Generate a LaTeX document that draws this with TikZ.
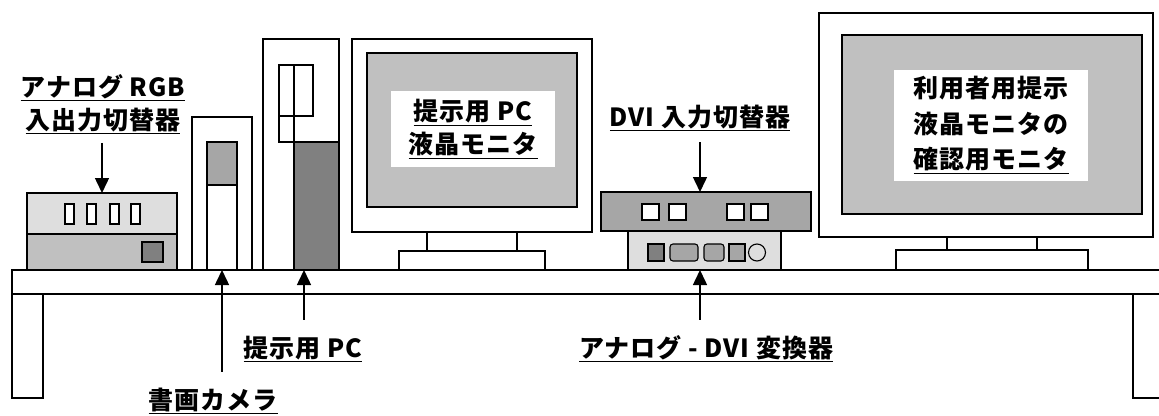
\documentclass[tikz,border=0pt]{standalone}
\usepackage{fontspec}
\newfontfamily\jpfont{Noto Sans CJK JP}[LetterSpace=4]
\usetikzlibrary{arrows.meta}

\definecolor{boxpale}{HTML}{DEDEDE}
\definecolor{boxmid}{HTML}{C0C0C0}
\definecolor{boxgrey}{HTML}{A6A6A6}
\definecolor{boxdark}{HTML}{808080}

\begin{document}
\begin{tikzpicture}[x=1pt,y=-1pt,
  outline/.style={draw=black,line width=1.5pt},
  thin outline/.style={draw=black,line width=1.1pt},
  lbl/.style={font=\jpfont\bfseries\fontsize{25}{33}\selectfont,align=center,inner sep=0pt},
  arr/.style={line width=1.5pt,-{Triangle[width=14pt,length=15pt]}}]

  \useasboundingbox (0,0) rectangle (1159,415);
  \clip (0,0) rectangle (1159,415);

  % Desk
  \draw[outline,fill=white] (12,270) rectangle (1175,294); %
  \draw[outline,fill=white] (12,294) rectangle (43,398); %
  \draw[outline,fill=white] (1133,294) rectangle (1175,398); %

  % Analog RGB switcher
  \draw[outline,fill=boxpale] (27,193) rectangle (177,234); %
  \draw[outline,fill=boxmid]  (27,234) rectangle (177,270); %
  \foreach \x in {65,87,110,131}
    \draw[thin outline,fill=white] (\x,204) rectangle ++(9,20); %
  \draw[thin outline,fill=boxdark] (142,242) rectangle (163,262); %
  \coordinate (rgbtop) at (102,193);

  % Document camera
  \draw[outline,fill=white] (192,117) rectangle (252,270); %
  \draw[outline,fill=white] (207,142) rectangle (237,270); %
  \draw[outline,fill=boxgrey] (207,142) rectangle (237,185); %
  \coordinate (camtop) at (222,270);

  % PC tower
  \draw[outline,fill=white] (263,39) rectangle (339,270); %
  \draw[outline] (279,65) rectangle (313,116); %
  \draw[outline] (279,65) rectangle (294,142); %
  \draw[outline,fill=boxdark] (294,142) rectangle (339,270); %
  \coordinate (pctop) at (304,270);

  % PC monitor
  \draw[outline,fill=white] (352,39) rectangle (592,232); %
  \draw[outline,fill=boxmid] (367,53) rectangle (577,207); %
  \draw[outline,fill=white] (427,232) rectangle (517,251); %
  \draw[outline,fill=white] (399,251) rectangle (545,270); %
  \node[lbl,fill=white,minimum width=164pt,minimum height=76pt] (pcmon) at (473,129)
    {\underline{提示用 PC}\\\underline{液晶モニタ}}; %

  % DVI switcher and converter
  \draw[outline,fill=boxgrey] (601,192) rectangle (811,231); %
  \foreach \x in {642,669,727,751}
    \draw[thin outline,fill=white] (\x,204) rectangle ++(17,16); %
  \draw[outline,fill=boxpale] (628,231) rectangle (781,270); %
  \draw[thin outline,fill=boxdark] (648,244) rectangle (664,261); %
  \draw[thin outline,fill=boxgrey,rounded corners=3pt] (670,244) rectangle (698,261); %
  \draw[thin outline,fill=boxgrey,rounded corners=3pt] (704,244) rectangle (724,261); %
  \draw[thin outline,fill=boxgrey] (729,244) rectangle (745,261); %
  \draw[thin outline,fill=boxpale] (757,252.5) circle (8.5); %
  \coordinate (dvitop) at (700,192);
  \coordinate (convtop) at (700,270);

  % User monitor
  \draw[outline,fill=white] (819,13) rectangle (1153,237); %
  \draw[outline,fill=boxmid] (842,35) rectangle (1142,214); %
  \draw[outline,fill=white] (947,237) rectangle (1037,250); %
  \draw[outline,fill=white] (896,250) rectangle (1088,270); %
  \node[lbl,fill=white,minimum width=194pt,minimum height=111pt,
        font=\jpfont\bfseries\fontsize{25}{35.5}\selectfont] (usermon) at (991,125)
    {利用者用提示\\液晶モニタの\\\underline{確認用モニタ}}; %

  % Labels
  \node[lbl] (rgblbl) at (103,104) {\underline{アナログ RGB}\\\underline{入出力切替器}}; %
  \node[lbl] (dvilbl) at (700,118) {\underline{DVI 入力切替器}}; %
  \node[lbl] (pclbl) at (303,349) {\underline{提示用 PC}}; %
  \node[lbl] (convlbl) at (706,349) {\underline{アナログ - DVI 変換器}}; %
  \node[lbl] (camlbl) at (213,401) {\underline{書画カメラ}}; %

  % Arrows
  \draw[arr] ([yshift=-9pt]rgblbl.south -| rgbtop) -- (rgbtop);
  \draw[arr] ([yshift=-11pt]dvilbl.south -| dvitop) -- (dvitop);
  \draw[arr] ([yshift=16pt]pclbl.north -| pctop) -- (pctop);
  \draw[arr] ([yshift=16pt]convlbl.north -| convtop) -- (convtop);
  \draw[arr] ([yshift=16pt]camlbl.north -| camtop) -- (camtop);

\end{tikzpicture}
\end{document}
